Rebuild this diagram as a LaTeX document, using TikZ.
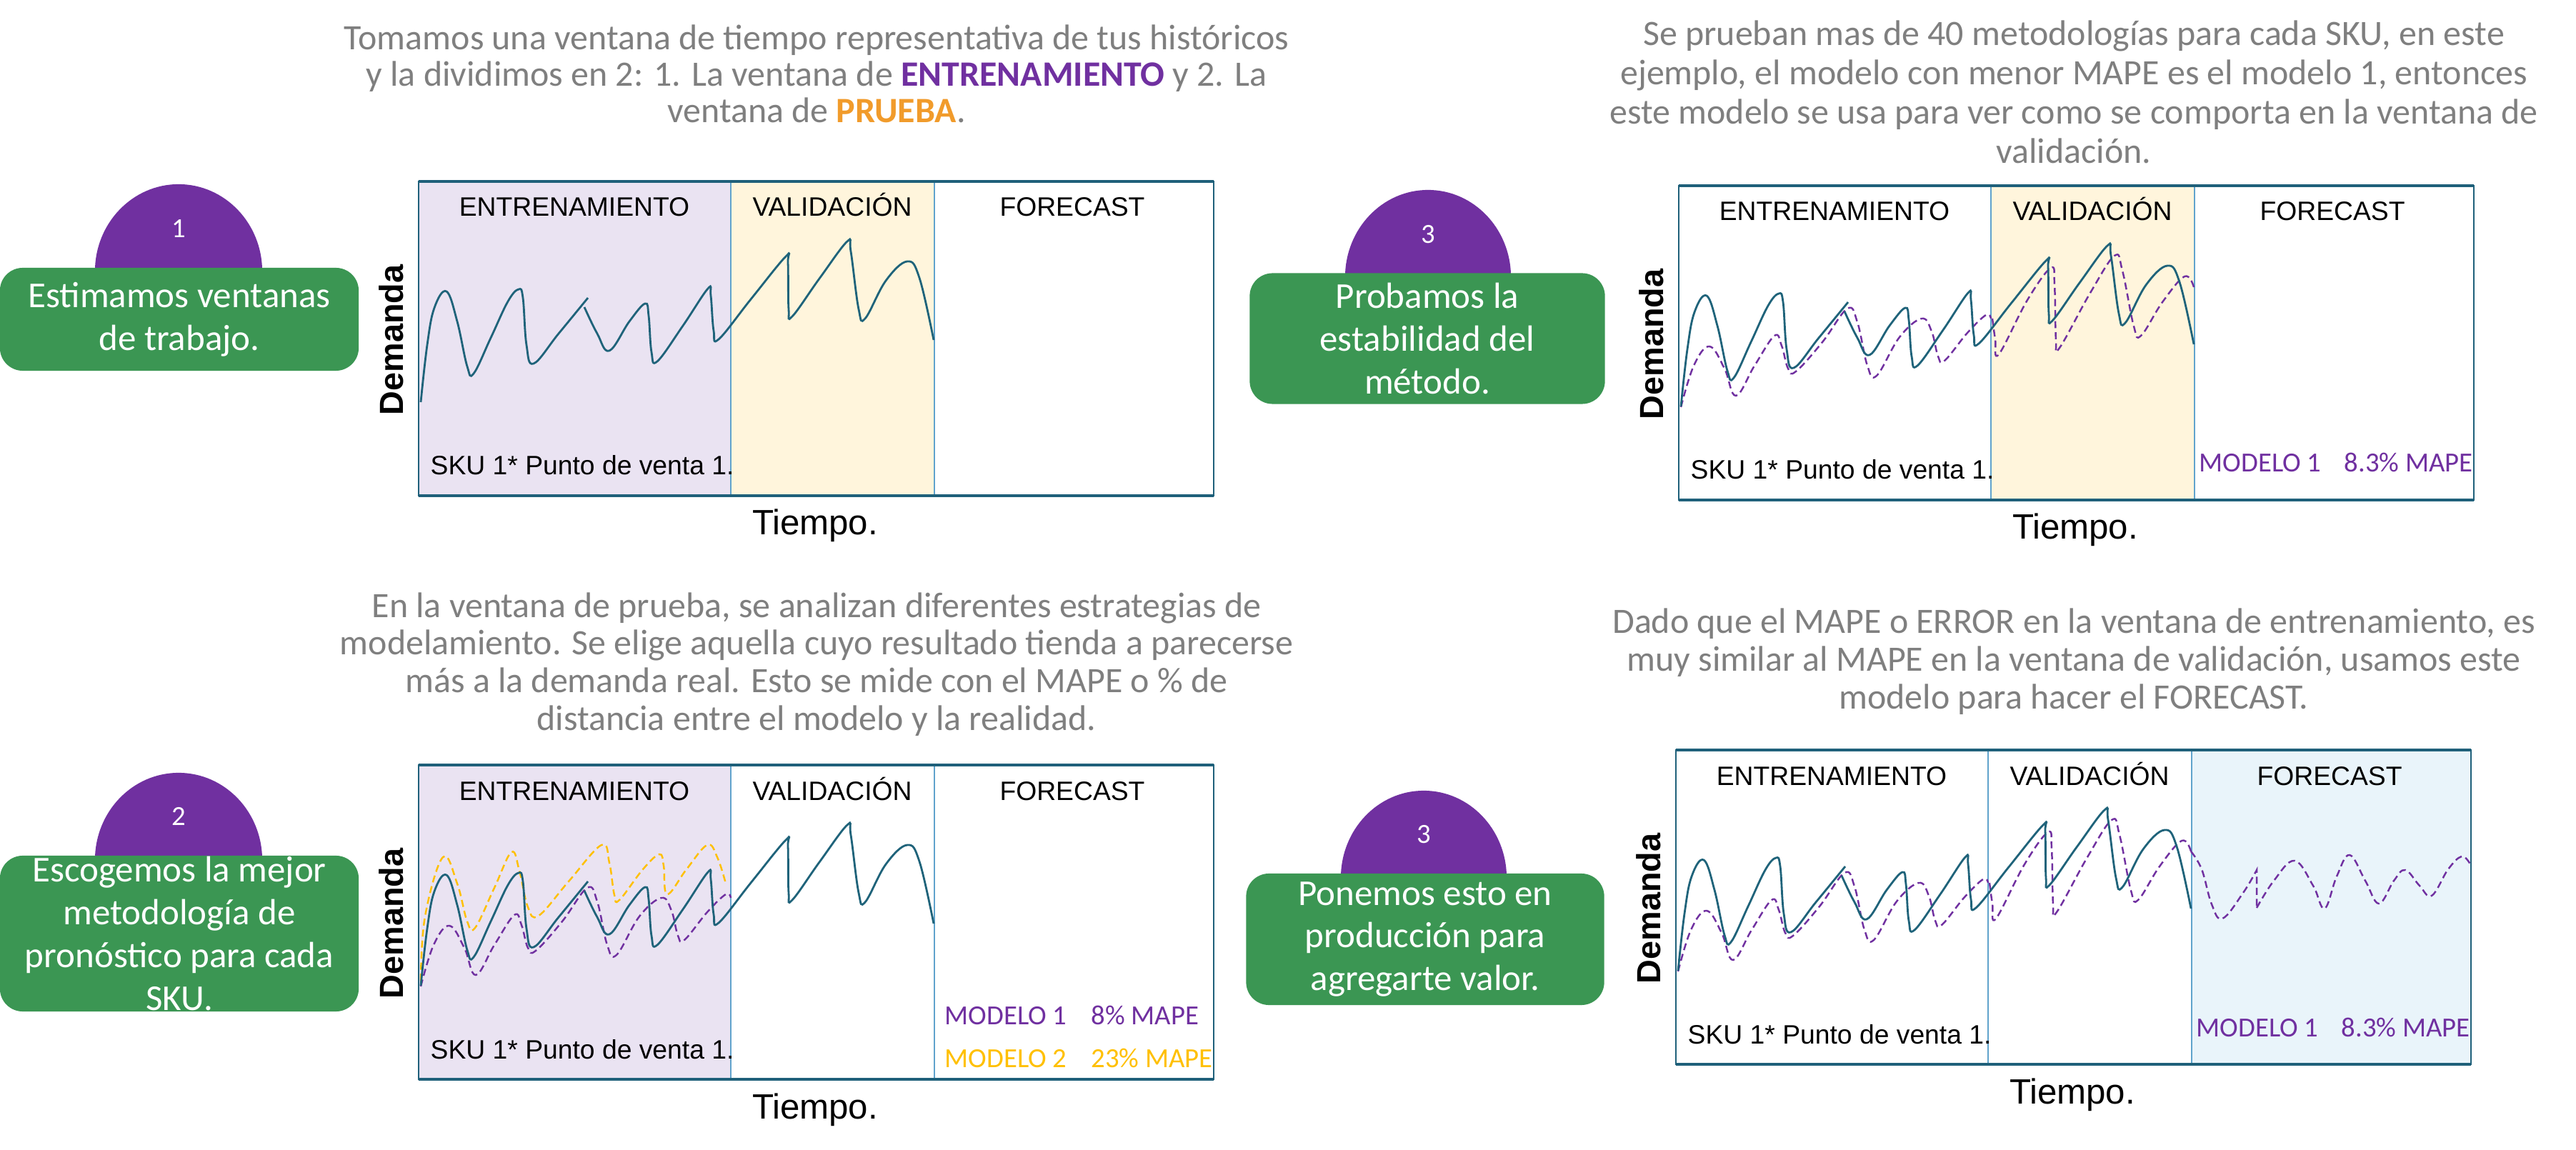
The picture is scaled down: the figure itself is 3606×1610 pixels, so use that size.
\documentclass[tikz,border=0pt]{standalone}
\usepackage{fontspec}
\setmainfont{Carlito}
\newfontfamily\arialfont{Liberation Sans}

\definecolor{gris}{RGB}{127,127,127}
\definecolor{morado}{RGB}{112,48,160}
\definecolor{naranja}{RGB}{241,155,43}
\definecolor{amarillo}{RGB}{255,192,0}
\definecolor{verde}{RGB}{59,150,83}
\definecolor{azulreal}{RGB}{31,99,122}
\definecolor{borde}{RGB}{31,96,122}
\definecolor{divisor}{RGB}{96,163,204}
\definecolor{lila}{RGB}{234,227,242}
\definecolor{crema}{RGB}{255,245,220}
\definecolor{celeste}{RGB}{233,244,250}

% demanda real (igual en los cuatro graficos)
\newcommand{\demanda}{%
  \draw[real] plot[smooth,tension=0.65] coordinates {(3,309) (12,229) (22,177) (39,154) (54,196) (68,259) (77,269) (101,219) (125,168) (140,151) (146,163) (151,229) (161,255) (196,213) (237,163)};
  \draw[real] plot[smooth,tension=0.65] coordinates {(232,176) (250,213) (267,237) (295,196) (317,171) (322,188) (326,239) (334,252) (370,202) (405,150) (409,160) (413,209) (420,221) (465,165) (514,105) (517,114) (518,179) (523,189) (561,136) (600,84) (605,98) (616,179) (625,192) (654,139) (684,112) (701,135) (721,222)};}
% modelo 1
\newcommand{\modeloent}{%
  \draw[mod1] plot[smooth,tension=0.65] coordinates {(3,310) (21,252) (43,225) (64,256) (80,294) (106,252) (134,210) (144,224) (153,256) (164,260) (201,219) (236,172) (250,191) (264,252) (277,266) (309,212) (340,186) (354,204) (363,239) (372,245) (404,206) (430,181) (437,186)};}
\newcommand{\modeloval}{%
  \draw[mod1] plot[smooth,tension=0.65] coordinates {(439,186) (443,215) (448,236) (488,160) (521,115) (526,139) (528,216) (533,227) (576,150) (610,98) (621,119) (637,197) (647,210) (677,163) (708,127) (721,142)};}
\newcommand{\modelopron}{%
  \draw[mod1] plot[smooth,tension=0.65] coordinates {(721,142) (736,167) (750,216) (765,236) (794,200) (813,168)} -- (813,221);
  \draw[mod1] plot[smooth,tension=0.65] coordinates {(813,221) (837,183) (866,155) (892,190) (908,222) (925,177) (943,147) (965,183) (984,215) (1005,183) (1021,168) (1041,190) (1058,204) (1081,167) (1100,149) (1112,160)};}
% modelo 2
\newcommand{\modelodos}{%
  \draw[mod2] plot[smooth,tension=0.65] coordinates {(3,302) (9,212) (34,129) (54,166) (68,219) (79,228) (106,172) (130,122) (141,148) (153,199) (168,211) (210,163) (256,112) (267,137) (274,182) (281,189) (314,146) (337,125) (343,141) (348,181) (375,146) (404,112) (418,129) (430,166)};}
% marco, ventanas y ejes
\newcommand{\marco}[1]{%
  \draw[div] (437,0) -- (437,440);
  \draw[div] (722,0) -- (722,440);
  \draw[borde,line width=0.6pt] (0,0) rectangle (1113,440);
  \draw[borde,line width=1.4pt] (0,0) -- (1113,0);
  \draw[borde,line width=1.4pt] (0,440) -- (1113,440);
  \node[cab] (#1e) at (218,49) {ENTRENAMIENTO};
  \node[cab] (#1v) at (579,49) {VALIDACIÓN};
  \node[cab] (#1f) at (915,49) {FORECAST};
  \node[cab,anchor=base west] (#1s) at (16,411) {SKU 1* Punto de venta 1.};
  \node[eje,anchor=base] (#1t) at (555,495) {Tiempo.};
  \node[eje,rotate=90,font=\arialfont\bfseries\fontsize{13.3}{16}\selectfont] (#1d) at (-38,222) {Demanda};}

\begin{document}
\begin{tikzpicture}[x=0.01cm,y=-0.01cm,
    desc/.style={text=gris,align=center,font=\fontsize{14.2}{15}\selectfont},
    paso/.style={fill=verde,rounded corners=0.32cm,text=white,align=center,inner sep=0pt,font=\fontsize{14.5}{17}\selectfont},
    numero/.style={text=white,font=\fontsize{11}{13}\selectfont},
    cab/.style={anchor=base,inner sep=0pt,font=\arialfont\fontsize{10.6}{12}\selectfont},
    eje/.style={inner sep=0pt,font=\arialfont\fontsize{14}{16}\selectfont},
    etiq/.style={anchor=base west,inner sep=0pt,font=\fontsize{11}{13}\selectfont},
    real/.style={azulreal,line width=0.8pt},
    mod1/.style={morado,line width=0.7pt,dash pattern=on 2.8pt off 1.6pt},
    mod2/.style={amarillo,line width=0.7pt,dash pattern=on 2.8pt off 1.6pt},
    div/.style={divisor,line width=0.4pt}]
    \useasboundingbox (0,0) rectangle (3606,1610);
    \fill[white] (0,0) rectangle (3606,1610);

    % Paso 1
    \node[desc,font=\fontsize{14.2}{14.5}\selectfont] (d1) at (1143,103) {Tomamos una ventana de tiempo representativa de tus históricos\\
      y la dividimos en 2: 1. La ventana de \textcolor{morado}{\textbf{ENTRENAMIENTO}} y 2. La\\
      ventana de \textcolor{naranja}{\textbf{PRUEBA}}.};
    \fill[morado] (250,380) ellipse [x radius=1.17cm, y radius=1.22cm];
    \node[numero] (n1) at (250,320) {1};
    \node[paso,minimum width=5.02cm,minimum height=1.44cm] (p1) at (251,447) {Estimamos ventanas\\de trabajo.};
    \begin{scope}[shift={(586,254)}]
      \fill[lila] (0,0) rectangle (437,440);
      \fill[crema] (437,0) rectangle (722,440);
      \marco{g1}
      \demanda
    \end{scope}

    % Paso 2
    \node[desc] (d2) at (1143,930) {En la ventana de prueba, se analizan diferentes estrategias de\\
      modelamiento. Se elige aquella cuyo resultado tienda a parecerse\\
      más a la demanda real. Esto se mide con el MAPE o \% de\\
      distancia entre el modelo y la realidad.};
    \fill[morado] (250,1204) ellipse [x radius=1.17cm, y radius=1.22cm];
    \node[numero] (n2) at (250,1143) {2};
    \node[paso,minimum width=5.02cm,minimum height=2.18cm] (p2) at (251,1307) {Escogemos la mejor\\metodología de\\pronóstico para cada\\SKU.};
    \begin{scope}[shift={(586,1071)}]
      \fill[lila] (0,0) rectangle (437,440);
      \marco{g2}
      \modelodos
      \modeloent
      \demanda
      \node[etiq,text=morado] (m1) at (736,363) {MODELO 1};
      \node[etiq,text=morado] (e1) at (941,363) {8\% MAPE};
      \node[etiq,text=amarillo] (m2) at (736,423) {MODELO 2};
      \node[etiq,text=amarillo] (e2) at (941,423) {23\% MAPE};
    \end{scope}

    % Paso 3
    \node[desc,font=\fontsize{14.2}{15.6}\selectfont] (d3) at (2903,129) {Se prueban mas de 40 metodologías para cada SKU, en este\\
      ejemplo, el modelo con menor MAPE es el modelo 1, entonces\\
      este modelo se usa para ver como se comporta en la ventana de\\
      validación.};
    \fill[morado] (1999,388) ellipse [x radius=1.16cm, y radius=1.22cm];
    \node[numero] (n3) at (1999,328) {3};
    \node[paso,minimum width=4.97cm,minimum height=1.83cm] (p3) at (1998,474) {Probamos la\\estabilidad del\\método.};
    \begin{scope}[shift={(2350,260)}]
      \fill[crema] (437,0) rectangle (722,440);
      \marco{g3}
      \modeloent
      \modeloval
      \demanda
      \node[etiq,text=morado] (m3) at (728,401) {MODELO 1};
      \node[etiq,text=morado] (e3) at (931,401) {8.3\% MAPE};
    \end{scope}

    % Paso 4
    \node[desc] (d4) at (2903,926) {Dado que el MAPE o ERROR en la ventana de entrenamiento, es\\
      muy similar al MAPE en la ventana de validación, usamos este\\
      modelo para hacer el FORECAST.};
    \fill[morado] (1993,1229) ellipse [x radius=1.16cm, y radius=1.22cm];
    \node[numero] (n4) at (1993,1168) {3};
    \node[paso,minimum width=5.01cm,minimum height=1.84cm] (p4) at (1995,1315) {Ponemos esto en\\producción para\\agregarte valor.};
    \begin{scope}[shift={(2346,1050)}]
      \fill[celeste] (722,0) rectangle (1113,440);
      \marco{g4}
      \modeloent
      \modeloval
      \modelopron
      \demanda
      \node[etiq,text=morado] (m4) at (728,401) {MODELO 1};
      \node[etiq,text=morado] (e4) at (931,401) {8.3\% MAPE};
    \end{scope}
\end{tikzpicture}
\end{document}
